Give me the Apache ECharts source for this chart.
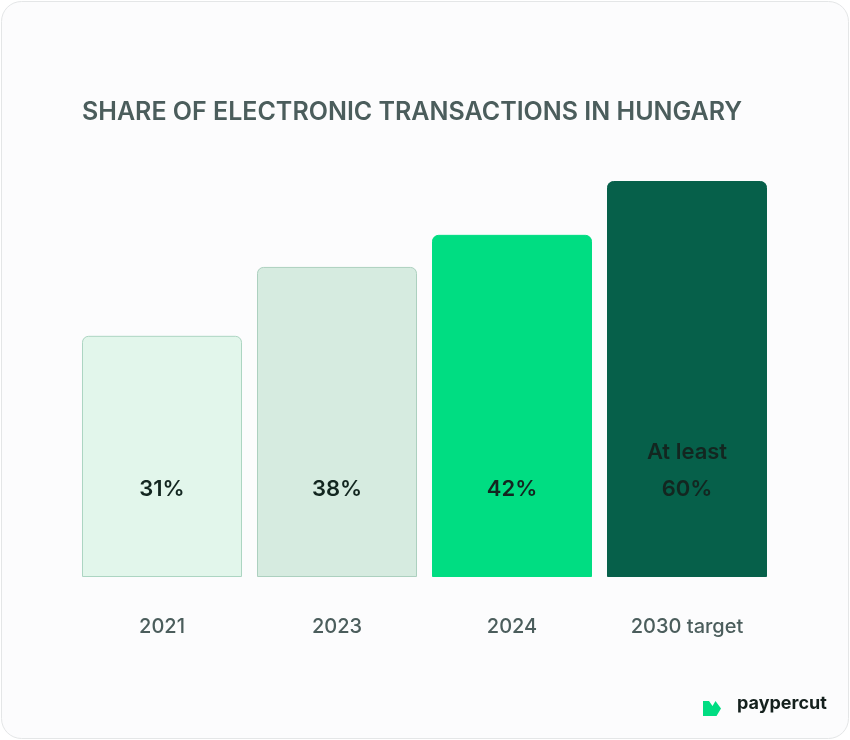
<!DOCTYPE html>
<html>
<head>
<meta charset="utf-8">
<script src="https://cdn.jsdelivr.net/npm/echarts@6/dist/echarts.min.js"></script>
<style>
  html, body { margin: 0; padding: 0; background: #ffffff; }
  #chart { width: 850px; height: 740px; }
</style>
</head>
<body>
<div id="chart"></div>
<script>
// categories and labels shown on the bars
const categories = ['2021', '2023', '2024', '2030 target']
const valueLabels = ['31%', '38%', '42%', 'At least\n60%']
// relative bar heights as drawn in the picture (tallest = 100)
const barHeights = [60.9, 78.3, 86.4, 100]
const barColors = ['#e2f6eb', '#d6ebe0', '#00dd82', '#06604a']
const barBorders = ['#acd5c2', '#acd0bf', '#00dd82', '#06604a']

const chart = echarts.init(document.getElementById('chart'))

const FONT = 'Inter, "Noto Sans", sans-serif'

chart.setOption({
  backgroundColor: '#ffffff',
  animation: false,
  graphic: [
    {
      type: 'rect',
      z: -10,
      shape: { x: 1.5, y: 1.5, width: 847, height: 737, r: 20 },
      style: { fill: '#fcfcfd', stroke: '#e4e6e7', lineWidth: 1 }
    },
    {
      type: 'text',
      left: 82,
      top: 100,
      style: {
        text: 'SHARE OF ELECTRONIC TRANSACTIONS IN HUNGARY',
        font: '600 25px ' + FONT,
        fill: '#4b5d5c',
        letterSpacing: 0.5
      }
    },
    // logo mark
    {
      type: 'polygon',
      shape: {
        points: [[703, 701], [709, 701], [712.5, 706], [715.5, 701], [721, 708.5],
          [716.5, 716], [703, 716]]
      },
      style: { fill: '#00dd82' }
    },
    {
      type: 'text',
      left: 737,
      top: 695,
      style: {
        text: 'paypercut',
        font: '700 18px ' + FONT,
        fill: '#14201d'
      }
    }
  ],
  grid: {
    left: 74.5,
    width: 700,
    top: 181,
    bottom: 740 - 577
  },
  xAxis: {
    type: 'category',
    data: categories,
    axisLine: { show: false },
    axisTick: { show: false },
    axisLabel: {
      margin: 40,
      fontFamily: FONT,
      fontSize: 20,
      fontWeight: 500,
      color: '#4b5d5c'
    }
  },
  yAxis: {
    type: 'value',
    min: 0,
    max: 100,
    show: false
  },
  series: [
    {
      type: 'bar',
      barWidth: 160,
      data: barHeights.map((h, i) => ({
        value: h,
        itemStyle: {
          color: barColors[i],
          borderColor: barBorders[i],
          borderWidth: 1,
          borderRadius: [6, 6, 0, 0]
        },
        label: { formatter: valueLabels[i] }
      })),
      label: {
        show: true,
        position: 'insideBottom',
        distance: 69,
        fontFamily: FONT,
        fontSize: 22,
        fontWeight: 600,
        lineHeight: 37,
        color: '#132620'
      }
    }
  ]
})
</script>
</body>
</html>
